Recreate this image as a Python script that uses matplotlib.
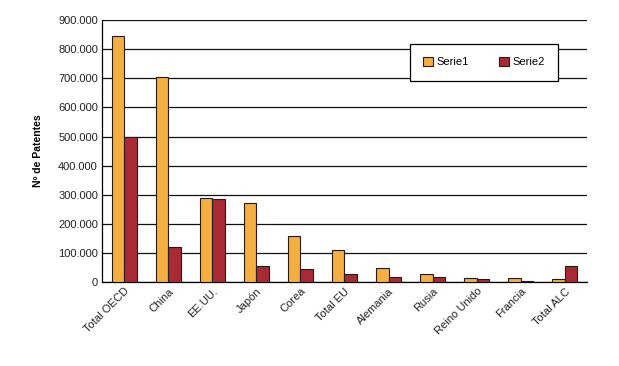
import numpy as np
import matplotlib.pyplot as plt
from matplotlib.ticker import FuncFormatter

plt.rcParams['font.family'] = ['Liberation Sans', 'DejaVu Sans']

categories = ["Total OECD", "China", "EE.UU.", "Japón", "Corea", "Total EU",
              "Alemania", "Rusia", "Reino Unido", "Francia", "Total ALC"]
serie1 = [844000, 703000, 288000, 270000, 157000, 109000, 47000, 26000, 13000, 13000, 9000]
serie2 = [500000, 119000, 285000, 54000, 44000, 26000, 16000, 16000, 9000, 2000, 54000]

col1 = '#F5AF40'
col2 = '#A82A35'
edge = '#2a1a10'

fig = plt.figure(figsize=(6.19, 3.66), dpi=100)
ax = fig.add_axes([0.165, 0.2295, 0.783, 0.7155])

x = np.arange(len(categories))
w = 0.285
ax.bar(x - w/2, serie1, width=w, color=col1, edgecolor=edge, linewidth=0.8, label='Serie1', zorder=3)
ax.bar(x + w/2, serie2, width=w, color=col2, edgecolor=edge, linewidth=0.8, label='Serie2', zorder=3)

ax.set_xlim(-0.5, len(categories) - 0.5)
ax.set_ylim(0, 900000)
ax.set_yticks(np.arange(0, 900001, 100000))
ax.yaxis.set_major_formatter(FuncFormatter(lambda v, p: '0' if v == 0 else f"{int(v):,}".replace(',', '.')))
ax.grid(axis='y', color='#111111', linewidth=0.9, zorder=0)
ax.tick_params(axis='both', length=0, labelsize=8, colors='#222222', pad=3)
ax.set_xticks(x)
ax.set_xticklabels(categories, rotation=45, ha='right', rotation_mode='anchor')
for s in ['top', 'right']:
    ax.spines[s].set_visible(False)
ax.spines['left'].set_linewidth(0.9)
ax.spines['bottom'].set_linewidth(0.9)

ax.set_ylabel('Nº de Patentes', fontsize=7.5, fontweight='bold', labelpad=11)

leg = ax.legend(loc='upper left', bbox_to_anchor=(0.635, 0.91), ncol=2, fontsize=8,
                frameon=True, fancybox=False, edgecolor='black', handlelength=0.9,
                handleheight=0.9, columnspacing=2.7, handletextpad=0.3,
                borderpad=1.2, borderaxespad=0)
leg.get_frame().set_linewidth(0.9)
leg.get_frame().set_alpha(1)

fig.savefig('out.png', dpi=100)
